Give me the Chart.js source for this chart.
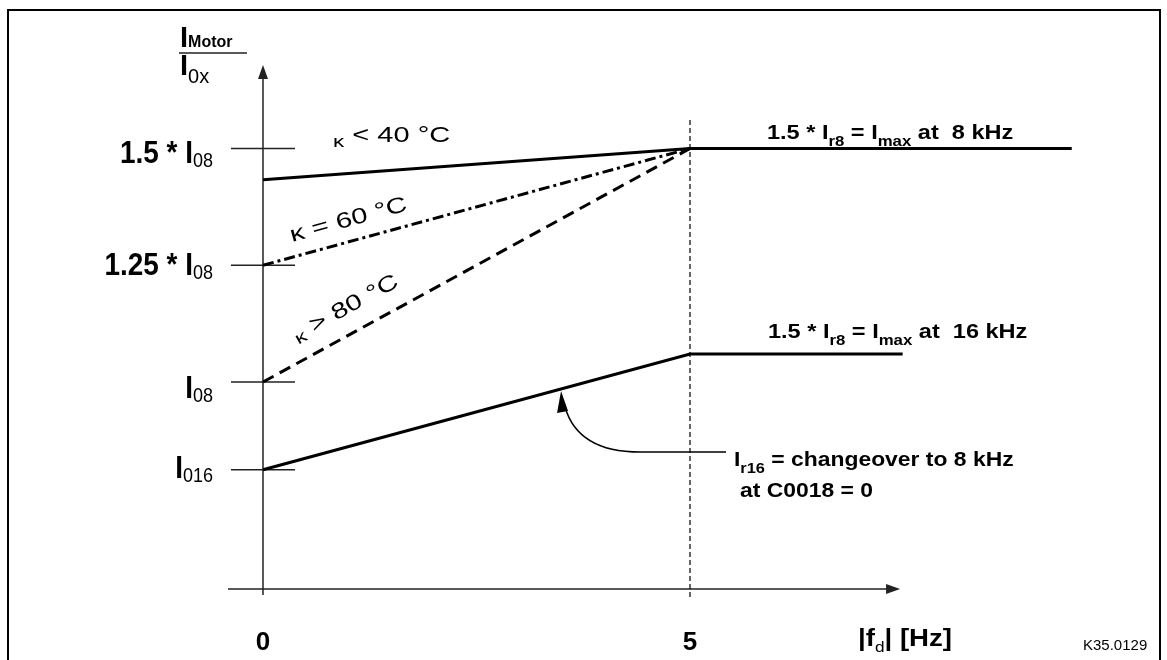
<!DOCTYPE html>
<html lang="en">
<head>
  <meta charset="UTF-8">
  <title>Motor current vs field frequency</title>
  <script src="https://cdn.jsdelivr.net/npm/chart.js"></script>
  <style>
    html, body {
      margin: 0;
      padding: 0;
      background: #fff;
    }
    #chart {
      display: block;
    }
  </style>
</head>
<body>
  <canvas id="chart" width="1167" height="660"></canvas>

  <script>
    // x = |fd| in Hz, y = I_Motor / I_08
    let curve40X = [0, 5, 9.47];
    let curve40Y = [1.433, 1.5, 1.5];
    let curve60X = [0, 5];
    let curve60Y = [1.25, 1.5];
    let curve80X = [0, 5];
    let curve80Y = [1.0, 1.5];
    let curve16kX = [0, 5, 7.49];
    let curve16kY = [0.812, 1.06, 1.06];

    let yTickValues = [1.5, 1.25, 1.0, 0.812];
    let yTickLabels = [['1.5 * I', '08'], ['1.25 * I', '08'], ['I', '08'], ['I', '016']];
    let xTickValues = [0, 5];
    let xTickLabels = ['0', '5'];

    let FAM = '"Liberation Sans", Arial, sans-serif';
    function font(w, s) { return w + ' ' + s + 'px ' + FAM; }

    function pts(xs, ys) {
      return xs.map((x, i) => ({ x: x, y: ys[i] }));
    }

    // segments: [text, font, dy]
    function rich(ctx, segs, x, y, opt) {
      opt = opt || {};
      ctx.save();
      ctx.translate(x, y);
      if (opt.rot) ctx.rotate(opt.rot);
      ctx.scale(opt.sx || 1, 1);
      let total = 0;
      segs.forEach(s => { ctx.font = s[1]; total += ctx.measureText(s[0]).width; });
      let cx = opt.align === 'right' ? -total : opt.align === 'center' ? -total / 2 : 0;
      ctx.fillStyle = '#000';
      ctx.textBaseline = 'alphabetic';
      ctx.textAlign = 'left';
      segs.forEach(s => {
        ctx.font = s[1];
        ctx.fillText(s[0], cx, s[2] || 0);
        cx += ctx.measureText(s[0]).width;
      });
      ctx.restore();
    }

    function line(ctx, x1, y1, x2, y2) {
      ctx.beginPath();
      ctx.moveTo(x1, y1);
      ctx.lineTo(x2, y2);
      ctx.stroke();
    }

    let diagram = {
      id: 'diagram',
      beforeDatasetsDraw(chart) {
        let ctx = chart.ctx;
        let xs = chart.scales.x, ys = chart.scales.y;
        let X = v => xs.getPixelForValue(v), Y = v => ys.getPixelForValue(v);
        ctx.save();

        // frame
        ctx.strokeStyle = '#000';
        ctx.lineWidth = 2;
        ctx.beginPath();
        ctx.moveTo(8, 662);
        ctx.lineTo(8, 10);
        ctx.lineTo(1160, 10);
        ctx.lineTo(1160, 662);
        ctx.stroke();

        // axes
        ctx.strokeStyle = '#222';
        ctx.fillStyle = '#222';
        ctx.lineWidth = 1.5;
        let x0 = X(0), yAx = Y(0.557);
        line(ctx, x0, Y(0.544), x0, Y(1.65));
        ctx.beginPath();
        ctx.moveTo(x0, Y(1.679));
        ctx.lineTo(x0 - 5, Y(1.679) + 14);
        ctx.lineTo(x0 + 5, Y(1.679) + 14);
        ctx.closePath();
        ctx.fill();

        line(ctx, X(-0.41), yAx, X(7.3), yAx);
        ctx.beginPath();
        ctx.moveTo(X(7.46), yAx);
        ctx.lineTo(X(7.46) - 14, yAx - 5);
        ctx.lineTo(X(7.46) - 14, yAx + 5);
        ctx.closePath();
        ctx.fill();

        // y tick marks
        yTickValues.forEach(v => line(ctx, X(-0.375), Y(v), X(0.375), Y(v)));

        // vertical dashed line at 5 Hz
        ctx.lineWidth = 1.2;
        ctx.strokeStyle = '#000';
        ctx.setLineDash([5, 3]);
        line(ctx, X(5), Y(1.561), X(5), Y(0.537));
        ctx.setLineDash([]);
        ctx.restore();
      },
      afterDatasetsDraw(chart) {
        let ctx = chart.ctx;
        let xs = chart.scales.x, ys = chart.scales.y;
        let X = v => xs.getPixelForValue(v), Y = v => ys.getPixelForValue(v);
        ctx.save();

        // y-axis title  I_Motor / I_0x
        rich(ctx, [['I', font('bold', 29)], ['Motor', font('bold', 16)]], 180, 47);
        ctx.strokeStyle = '#222';
        ctx.lineWidth = 1.5;
        line(ctx, 179, 53, 247, 53);
        rich(ctx, [['I', font('bold', 29)], ['0x', font('normal', 20), 8]], 180, 75);

        // y tick labels
        let dys = [14.5, 10, 16, 8];
        yTickLabels.forEach((l, i) => {
          rich(ctx, [[l[0], font('bold', 31)], [l[1], font('normal', 20), 4]],
            213, Y(yTickValues[i]) + dys[i], { align: 'right', sx: 0.9 });
        });

        // x tick labels and title
        xTickLabels.forEach((l, i) => {
          rich(ctx, [[l, font('bold', 26)]], X(xTickValues[i]), 650, { align: 'center' });
        });
        rich(ctx, [['|f', font('bold', 24)], ['d', font('normal', 15), 6], ['| [Hz]', font('bold', 24)]],
          858, 646, { sx: 1.15 });
        rich(ctx, [['K35.0129', font('normal', 15)]], 1083, 650);

        // curve labels
        let ang = (a, b) => Math.atan2(Y(b[1]) - Y(a[1]), X(b[0]) - X(a[0]));
        rich(ctx, [['κ', font('normal', 17), 5], [' < 40 °C', font('normal', 22)]], 333, 142, { sx: 1.32 });
        rich(ctx, [['κ = 60 °C', font('normal', 22)]], 292, 242,
          { sx: 1.32, rot: ang([curve60X[0], curve60Y[0]], [curve60X[1], curve60Y[1]]) });
        rich(ctx, [['κ', font('normal', 17), 3], [' > 80 °C', font('normal', 22)]], 297, 342,
          { sx: 1.32, rot: ang([curve80X[0], curve80Y[0]], [curve80X[1], curve80Y[1]]) });

        // right-hand labels
        let B = font('bold', 21), S = font('bold', 15);
        rich(ctx, [['1.5 * I', B], ['r8', S, 7], [' = I', B], ['max', S, 7], [' at  8 kHz', B]], 767, 139, { sx: 1.12 });
        rich(ctx, [['1.5 * I', B], ['r8', S, 7], [' = I', B], ['max', S, 7], [' at  16 kHz', B]], 768, 338, { sx: 1.12 });

        // annotation
        rich(ctx, [['I', B], ['r16', S, 7], [' = changeover to 8 kHz', B]], 734, 466, { sx: 1.09 });
        rich(ctx, [['at C0018 = 0', B]], 740, 497, { sx: 1.09 });

        let tipX = X(3.49), tipY = Y(curve16kY[0] + (curve16kY[1] - curve16kY[0]) * 3.49 / 5);
        ctx.strokeStyle = '#000';
        ctx.lineWidth = 1.5;
        ctx.beginPath();
        ctx.moveTo(726, 452);
        ctx.lineTo(640, 452);
        ctx.quadraticCurveTo(578, 452, 565, tipY + 18);
        ctx.stroke();
        ctx.fillStyle = '#000';
        ctx.beginPath();
        ctx.moveTo(tipX, tipY + 2);
        ctx.lineTo(tipX - 4, tipY + 24);
        ctx.lineTo(tipX + 7, tipY + 22);
        ctx.closePath();
        ctx.fill();

        ctx.restore();
      }
    };

    let lineStyle = { borderColor: '#000', borderWidth: 3, pointRadius: 0, fill: false, tension: 0 };

    new Chart(document.getElementById('chart'), {
      type: 'line',
      data: {
        datasets: [
          Object.assign({ label: 'κ < 40 °C', data: pts(curve40X, curve40Y) }, lineStyle),
          Object.assign({ label: 'κ = 60 °C', data: pts(curve60X, curve60Y), borderDash: [11, 4, 3, 4] }, lineStyle),
          Object.assign({ label: 'κ > 80 °C', data: pts(curve80X, curve80Y), borderDash: [12, 7] }, lineStyle),
          Object.assign({ label: '16 kHz', data: pts(curve16kX, curve16kY) }, lineStyle)
        ]
      },
      options: {
        responsive: false,
        animation: false,
        devicePixelRatio: 1,
        layout: { padding: 0, autoPadding: false },
        plugins: { legend: { display: false }, tooltip: { enabled: false } },
        scales: {
          x: { type: 'linear', display: false, min: -263 / 85.4, max: (1167 - 263) / 85.4 },
          y: { type: 'linear', display: false, min: 1 + 382 / 467 - 660 / 467, max: 1 + 382 / 467 }
        }
      },
      plugins: [diagram]
    });
  </script>
</body>
</html>
